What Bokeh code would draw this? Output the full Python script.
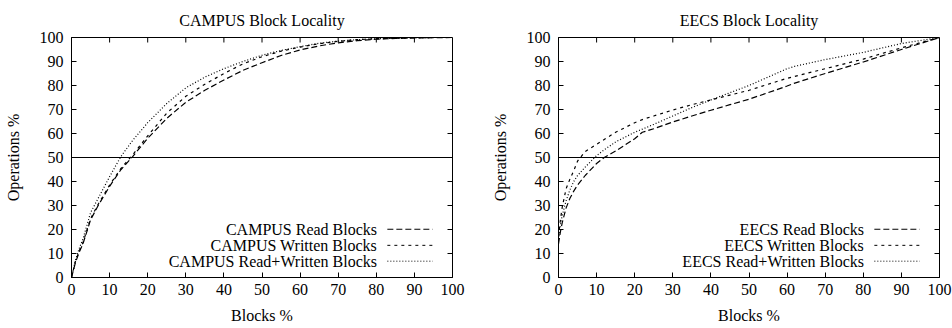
from bokeh.plotting import figure
from bokeh.layouts import row
from bokeh.models import Span, Label, Arrow, FixedTicker, Range1d
from bokeh.embed import file_html
from bokeh.resources import INLINE

# ---------------- data ----------------
ticks = [0, 10, 20, 30, 40, 50, 60, 70, 80, 90, 100]

campus_x = [0, 1, 2, 3, 5, 7, 10, 13, 16, 20, 25, 30, 35, 40, 45, 50, 55, 60, 65, 70, 75, 80, 85, 90, 95, 100]
campus_read = [0, 6, 10.5, 14, 24, 30, 38, 45, 50.3, 58, 66.3, 73, 78, 82.3, 86.3, 89.5, 92.5, 94.8, 96.5, 97.8, 98.7, 99.3, 99.6, 99.8, 99.9, 100]
campus_written = [0, 6.5, 11, 14.5, 24.5, 30.5, 38.5, 45.5, 51, 59, 68.5, 75.5, 80.5, 85, 89, 92, 94.3, 96, 97.4, 98.4, 99.1, 99.5, 99.7, 99.9, 100, 100]
campus_rw = [0, 7, 12, 16, 27, 33, 42, 50.5, 57, 64.5, 72.5, 79, 83.5, 87, 90, 92.6, 94.6, 96.2, 97.6, 98.5, 99.1, 99.5, 99.7, 99.9, 100, 100]

eecs_x = [0, 0.5, 1, 2, 3, 4, 5, 7, 10, 12, 15, 20, 22, 25, 30, 35, 40, 45, 50, 55, 60, 62, 70, 80, 90, 100]
eecs_read = [14, 19, 23, 29, 33, 36, 38.5, 42.5, 47.5, 50, 52.7, 57.8, 60.5, 62, 64.8, 67.3, 69.7, 72, 74.3, 77, 79.8, 81, 85, 89.8, 95, 100]
eecs_written = [17, 24, 29.5, 37, 41, 44.5, 48.5, 52.5, 55.5, 57.5, 60.5, 64.5, 65.8, 67.3, 69.8, 72, 74, 76, 78, 80.5, 83, 83.8, 87, 91, 95.7, 100]
eecs_rw = [16, 22, 26, 32, 36.5, 40, 42.5, 46, 50.8, 53.2, 56.5, 60.5, 61.8, 63.8, 67.3, 70.8, 74, 77, 80, 83.5, 87, 88, 90.8, 93.8, 97.5, 100]

FONT = "Liberation Serif"
FS = "16px"
DASHES = ["6 3", "3 4", "1 2"]
FRAME_W, FRAME_H = 381, 240
TICK_PX = 5


def make_plot(title, xs, series, labels, left_border, right_border):
    p = figure(width=left_border + FRAME_W + right_border, height=328,
               output_backend="svg", toolbar_location=None,
               x_range=Range1d(0, 100), y_range=Range1d(0, 100),
               min_border_left=left_border, min_border_right=right_border,
               min_border_top=37, min_border_bottom=51)
    p.title.text = title
    p.title.align = "center"
    p.title.text_font = FONT
    p.title.text_font_size = FS
    p.title.text_font_style = "normal"
    p.title.text_color = "black"
    p.title.standoff = 17
    p.grid.visible = False
    p.outline_line_color = "black"
    p.outline_line_width = 1
    p.background_fill_color = "white"
    p.border_fill_color = "white"

    for ax in (p.xaxis[0], p.yaxis[0]):
        ax.ticker = FixedTicker(ticks=ticks)
        ax.major_tick_in = TICK_PX
        ax.major_tick_out = 0
        ax.minor_tick_line_color = None
        ax.major_tick_line_color = "black"
        ax.axis_line_color = "black"
        ax.major_label_text_font = FONT
        ax.major_label_text_font_size = FS
        ax.major_label_text_color = "black"
        ax.axis_label_text_font = FONT
        ax.axis_label_text_font_size = FS
        ax.axis_label_text_font_style = "normal"
        ax.axis_label_text_color = "black"
    p.xaxis[0].axis_label = "Blocks %"
    p.yaxis[0].axis_label = "Operations %"
    p.xaxis[0].major_label_standoff = 6
    p.yaxis[0].major_label_standoff = 8
    p.xaxis[0].axis_label_standoff = 9
    p.yaxis[0].axis_label_standoff = 15

    # mirrored inward ticks on the top and right edges (gnuplot "mirror")
    inner = ticks[1:-1]
    dy = TICK_PX * 100.0 / FRAME_H
    dx = TICK_PX * 100.0 / FRAME_W
    top = ticks[-1]
    p.segment(x0=inner, y0=[top] * len(inner), x1=inner, y1=[top - dy] * len(inner),
              line_color="black", line_width=1)
    p.segment(x0=[top] * len(inner), y0=inner, x1=[top - dx] * len(inner), y1=inner,
              line_color="black", line_width=1)

    p.add_layout(Span(location=50, dimension="width", line_color="black", line_width=1))

    for ys, dash in zip(series, DASHES):
        p.line(xs, ys, line_color="black", line_width=1.2, line_dash=dash)

    # gnuplot-style key: text right-aligned, sample to the right
    key_y = [20.1, 13.4, 6.8]
    for lab, dash, ky in zip(labels, DASHES, key_y):
        p.add_layout(Label(x=80.2, y=ky, text=lab, text_align="right", text_baseline="middle",
                           text_font=FONT, text_font_size=FS, text_color="black"))
        p.add_layout(Arrow(end=None, x_start=82.9, y_start=ky, x_end=94.8, y_end=ky,
                           line_color="black", line_width=1, line_dash=dash))
    return p


p1 = make_plot("CAMPUS Block Locality", campus_x,
               [campus_read, campus_written, campus_rw],
               ["CAMPUS Read Blocks", "CAMPUS Written Blocks", "CAMPUS Read+Written Blocks"], 71, 24)
p2 = make_plot("EECS Block Locality", eecs_x,
               [eecs_read, eecs_written, eecs_rw],
               ["EECS Read Blocks", "EECS Written Blocks", "EECS Read+Written Blocks"], 82, 13)

layout = row(p1, p2)
open("out.html", "w").write(file_html(layout, INLINE))
